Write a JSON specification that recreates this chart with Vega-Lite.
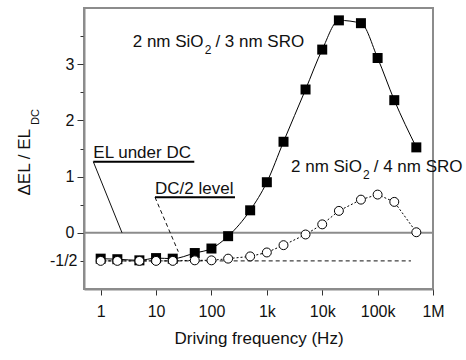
{
  "$schema": "https://vega.github.io/schema/vega-lite/v6.json",
  "width": 349,
  "height": 281,
  "autosize": "none",
  "padding": {"left": 84, "top": 8, "right": 33, "bottom": 71},
  "background": "white",
  "datasets": {
    "sq": [
      {"f": 1, "v": -0.46}, {"f": 2, "v": -0.47}, {"f": 5, "v": -0.49}, {"f": 10, "v": -0.45},
      {"f": 20, "v": -0.46}, {"f": 50, "v": -0.36}, {"f": 100, "v": -0.28}, {"f": 200, "v": -0.06},
      {"f": 500, "v": 0.40}, {"f": 1000, "v": 0.90}, {"f": 2000, "v": 1.62}, {"f": 5000, "v": 2.55},
      {"f": 10000, "v": 3.26}, {"f": 20000, "v": 3.78}, {"f": 50000, "v": 3.73}, {"f": 100000, "v": 3.11},
      {"f": 200000, "v": 2.36}, {"f": 500000, "v": 1.52}
    ],
    "ci": [
      {"f": 1, "v": -0.50}, {"f": 2, "v": -0.50}, {"f": 5, "v": -0.50}, {"f": 10, "v": -0.50},
      {"f": 20, "v": -0.50}, {"f": 50, "v": -0.49}, {"f": 100, "v": -0.49}, {"f": 200, "v": -0.46},
      {"f": 500, "v": -0.42}, {"f": 1000, "v": -0.35}, {"f": 2000, "v": -0.22}, {"f": 5000, "v": -0.03},
      {"f": 10000, "v": 0.15}, {"f": 20000, "v": 0.39}, {"f": 50000, "v": 0.59}, {"f": 100000, "v": 0.68},
      {"f": 200000, "v": 0.55}, {"f": 500000, "v": 0.01}
    ],
    "zero": [{"f": 0.5, "v": 0}, {"f": 1000000, "v": 0}],
    "half": [{"f": 1, "v": -0.5}, {"f": 400000, "v": -0.5}],
    "lead1": [{"f": 0.736, "v": 1.265, "f2": 2.43, "v2": 0}],
    "lead2": [{"f": 9.57, "v": 0.632, "f2": 25.2, "v2": -0.336}],
    "under": [
      {"f": 0.736, "f2": 49, "v": 1.265},
      {"f": 9.57, "f2": 266, "v": 0.632}
    ],
    "txt": [
      {"f": 3.786, "v": 3.301, "label": "2 nm SiO"},
      {"f": 117.8, "v": 3.301, "label": "/ 3 nm SRO"},
      {"f": 2730, "v": 1.0765, "label": "2 nm SiO"},
      {"f": 84960, "v": 1.0765, "label": "/ 4 nm SRO"},
      {"f": 0.736, "v": 1.326, "label": "EL under DC"},
      {"f": 9.57, "v": 0.69, "label": "DC/2 level"}
    ],
    "sub": [
      {"f": 75.5, "v": 3.176, "label": "2"},
      {"f": 54450, "v": 0.952, "label": "2"}
    ],
    "ysub": [{"f": 0.078, "v": 1.918, "label": "DC"}]
  },
  "encoding": {
    "x": {
      "field": "f", "type": "quantitative",
      "scale": {"type": "log", "domain": [0.5, 1000000], "nice": false},
      "axis": {
        "values": [1, 10, 100, 1000, 10000, 100000, 1000000],
        "format": "~s",
        "tickSize": 6,
        "labelPadding": 8,
        "labelFlush": false,
        "labelOverlap": false,
        "title": "Driving frequency (Hz)",
        "titleY": 54,
        "titleBaseline": "alphabetic"
      }
    },
    "y": {
      "field": "v", "type": "quantitative",
      "scale": {"domain": [-1, 4], "nice": false, "zero": false},
      "axis": {
        "values": [-0.5, 0, 0.5, 1, 1.5, 2, 2.5, 3, 3.5],
        "labelExpr": "datum.value == -0.5 ? '-1/2' : (datum.value % 1 == 0 ? format(datum.value, 'd') : '')",
        "tickSize": {"condition": {"test": "datum.value % 1 != 0", "value": 4}, "value": 7},
        "labelPadding": 3,
        "labelFlush": false,
        "labelOverlap": false,
        "title": "ΔEL / EL",
        "titleAngle": 270,
        "titleX": -55,
        "titleY": 187,
        "titleAlign": "left",
        "titleBaseline": "alphabetic"
      }
    }
  },
  "layer": [
    {"data": {"name": "zero"}, "mark": {"type": "line", "color": "#8c8c8c", "strokeWidth": 2}},
    {"data": {"name": "half"}, "mark": {"type": "line", "color": "#111", "strokeWidth": 1, "strokeDash": [4, 3]}},
    {"data": {"name": "lead1"}, "mark": {"type": "rule", "color": "#111", "strokeWidth": 1},
     "encoding": {"x2": {"field": "f2"}, "y2": {"field": "v2"}}},
    {"data": {"name": "lead2"}, "mark": {"type": "rule", "color": "#111", "strokeWidth": 1, "strokeDash": [4, 3]},
     "encoding": {"x2": {"field": "f2"}, "y2": {"field": "v2"}}},
    {"data": {"name": "under"}, "mark": {"type": "rule", "color": "#000", "strokeWidth": 2},
     "encoding": {"x2": {"field": "f2"}}},
    {"data": {"name": "sq"}, "mark": {"type": "line", "color": "#000", "strokeWidth": 1, "interpolate": "monotone"}},
    {"data": {"name": "sq"}, "mark": {"type": "square", "size": 100, "filled": true, "color": "#000", "opacity": 1}},
    {"data": {"name": "ci"}, "mark": {"type": "line", "color": "#000", "strokeWidth": 1, "strokeDash": [2, 2]}},
    {"data": {"name": "ci"}, "mark": {"type": "point", "shape": "circle", "size": 80, "filled": true, "fill": "white", "stroke": "#000", "strokeWidth": 1, "opacity": 1}},
    {"data": {"name": "txt"}, "mark": {"type": "text", "align": "left", "baseline": "alphabetic", "fontSize": 17, "font": "Liberation Sans", "color": "#111"},
     "encoding": {"text": {"field": "label"}}},
    {"data": {"name": "sub"}, "mark": {"type": "text", "align": "left", "baseline": "alphabetic", "fontSize": 12, "font": "Liberation Sans", "color": "#111"},
     "encoding": {"text": {"field": "label"}}},
    {"data": {"name": "ysub"}, "mark": {"type": "text", "align": "left", "baseline": "alphabetic", "angle": 270, "fontSize": 11, "font": "Liberation Sans", "color": "#111"},
     "encoding": {"text": {"field": "label"}}}
  ],
  "config": {
    "font": "Liberation Sans",
    "view": {"stroke": "#8c8c8c", "strokeWidth": 2},
    "axis": {
      "grid": false,
      "domainColor": "#8c8c8c",
      "domainWidth": 2,
      "tickColor": "#333",
      "tickWidth": 1,
      "labelFont": "Liberation Sans",
      "labelFontSize": 16,
      "labelColor": "#111",
      "titleFont": "Liberation Sans",
      "titleFontSize": 17,
      "titleFontWeight": "normal",
      "titleColor": "#111"
    }
  }
}
